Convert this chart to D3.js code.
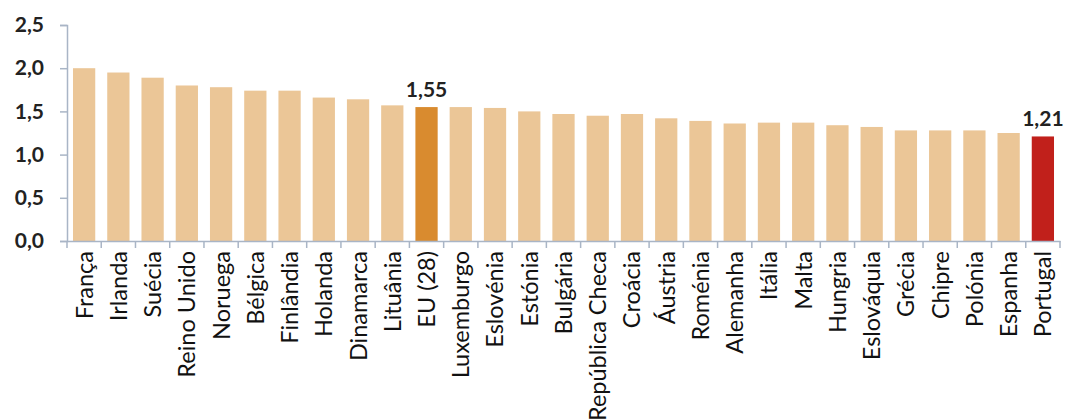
<!DOCTYPE html>
<html><head><meta charset="utf-8">
<script src="https://cdn.jsdelivr.net/npm/d3@7"></script>
<style>body{margin:0;background:#fff}svg{display:block}</style>
</head><body><svg id="c" width="1068" height="419"></svg>
<script>
const categories = ["França","Irlanda","Suécia","Reino Unido","Noruega","Bélgica","Finlândia","Holanda","Dinamarca","Lituânia","EU (28)","Luxemburgo","Eslovénia","Estónia","Bulgária","República Checa","Croácia","Áustria","Roménia","Alemanha","Itália","Malta","Hungria","Eslováquia","Grécia","Chipre","Polónia","Espanha","Portugal"];
const values = [2.00,1.95,1.89,1.80,1.78,1.74,1.74,1.66,1.64,1.57,1.55,1.55,1.54,1.50,1.47,1.45,1.47,1.42,1.39,1.36,1.37,1.37,1.34,1.32,1.28,1.28,1.28,1.25,1.21];
const highlights = {"EU (28)":"#D98B2F","Portugal":"#C1201B"};
const labelled = ["EU (28)","Portugal"];
const yTicks = [0,0.5,1.0,1.5,2.0,2.5];

const svg = d3.select("#c");
const m = {l:67, r:8, t:25, b:178};
const W = 1068, H = 419;
const x = d3.scaleBand().domain(categories).range([m.l, W - m.r]).paddingInner(0.35).paddingOuter(0.175);
const y = d3.scaleLinear().domain([0,2.5]).range([H - m.b, m.t]);
const fmt = v => d3.format(".1f")(v).replace(".", ",");
const fmt2 = v => d3.format(".2f")(v).replace(".", ",");
const font = "Lato, 'Open Sans', sans-serif";
const axisColor = "#A9B5C6";

svg.selectAll("rect.bar").data(categories).join("rect")
  .attr("x", d => x(d)).attr("width", x.bandwidth())
  .attr("y", (d,i) => y(values[i])).attr("height", (d,i) => y(0) - y(values[i]))
  .attr("fill", d => highlights[d] || "#EBC697");

// y axis
const ya = svg.append("g").attr("transform", `translate(${m.l},0)`)
  .call(d3.axisLeft(y).tickValues(yTicks).tickFormat(fmt).tickSize(7).tickPadding(16));
ya.select(".domain").attr("stroke", axisColor).attr("stroke-width", 1.5);
ya.selectAll(".tick line").attr("stroke", axisColor).attr("stroke-width", 1.5);
ya.selectAll("text").attr("font-family", font).attr("font-weight", "bold").attr("font-size", 21).attr("fill", "#222");

// x axis
const xa = svg.append("g").attr("transform", `translate(0,${y(0)})`)
  .call(d3.axisBottom(x).tickSize(0).tickPadding(0));
xa.select(".domain").attr("stroke", axisColor).attr("stroke-width", 1.5);
xa.selectAll(".tick text")
  .attr("transform", "rotate(-90)")
  .attr("text-anchor", "end").attr("dy", "0.36em").attr("x", -10).attr("y", 0)
  .attr("font-family", font).attr("font-size", 23.5).attr("fill", "#111");
const step = x.step();
const bounds = d3.range(categories.length + 1).map(i => m.l + i * step);
xa.selectAll("line.bt").data(bounds).join("line").attr("class","bt")
  .attr("x1", d => d).attr("x2", d => d).attr("y1", 0).attr("y2", 7)
  .attr("stroke", axisColor).attr("stroke-width", 1.5);

// value labels
svg.selectAll("text.vl").data(labelled).join("text").attr("class","vl")
  .attr("x", d => x(d) + x.bandwidth()/2)
  .attr("y", d => y(values[categories.indexOf(d)]) - 10)
  .attr("text-anchor", "middle")
  .attr("font-family", font).attr("font-weight", "bold").attr("font-size", 21).attr("fill", "#222")
  .text(d => fmt2(values[categories.indexOf(d)]));
</script></body></html>
